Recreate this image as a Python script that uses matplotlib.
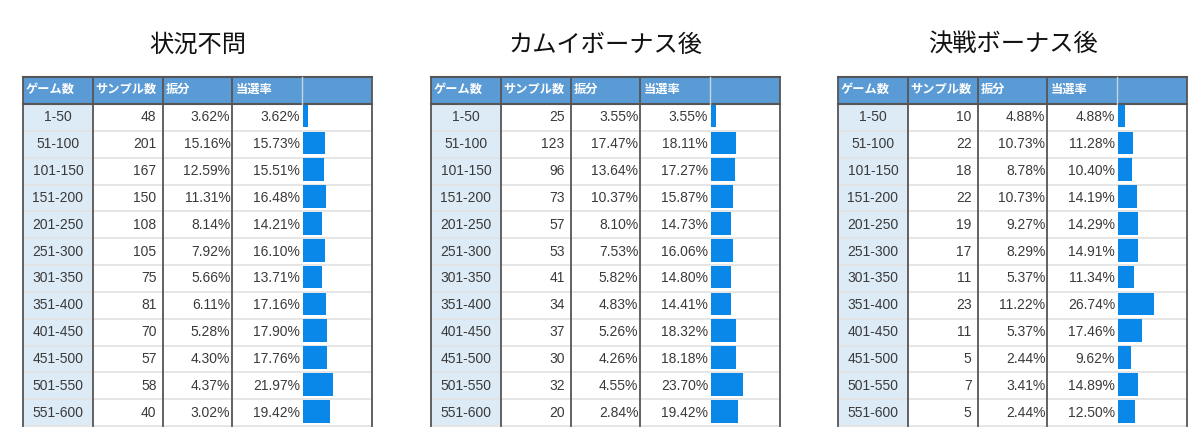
import matplotlib.pyplot as plt
from matplotlib.patches import Rectangle
import numpy as np

titles = ["状況不問", "カムイボーナス後", "決戦ボーナス後"]
headers = ["ゲーム数", "サンプル数", "振分", "当選率"]
ranges = ["1-50", "51-100", "101-150", "151-200", "201-250", "251-300",
          "301-350", "351-400", "401-450", "451-500", "501-550", "551-600"]

samples_all = [48, 201, 167, 150, 108, 105, 75, 81, 70, 57, 58, 40]
share_all = [3.62, 15.16, 12.59, 11.31, 8.14, 7.92, 5.66, 6.11, 5.28, 4.30, 4.37, 3.02]
rate_all = [3.62, 15.73, 15.51, 16.48, 14.21, 16.10, 13.71, 17.16, 17.90, 17.76, 21.97, 19.42]

samples_kamui = [25, 123, 96, 73, 57, 53, 41, 34, 37, 30, 32, 20]
share_kamui = [3.55, 17.47, 13.64, 10.37, 8.10, 7.53, 5.82, 4.83, 5.26, 4.26, 4.55, 2.84]
rate_kamui = [3.55, 18.11, 17.27, 15.87, 14.73, 16.06, 14.80, 14.41, 18.32, 18.18, 23.70, 19.42]

samples_kessen = [10, 22, 18, 22, 19, 17, 11, 23, 11, 5, 7, 5]
share_kessen = [4.88, 10.73, 8.78, 10.73, 9.27, 8.29, 5.37, 11.22, 5.37, 2.44, 3.41, 2.44]
rate_kessen = [4.88, 11.28, 10.40, 14.19, 14.29, 14.91, 11.34, 26.74, 17.46, 9.62, 14.89, 12.50]

tables = [
    (samples_all, share_all, rate_all),
    (samples_kamui, share_kamui, rate_kamui),
    (samples_kessen, share_kessen, rate_kessen),
]

W, H = 1199, 441
JP = ["Noto Sans CJK JP", "DejaVu Sans"]
NUM = ["Liberation Sans", "DejaVu Sans"]

fig = plt.figure(figsize=(W / 100, H / 100), dpi=100)
ax = fig.add_axes([0, 0, 1, 1])
ax.set_xlim(0, W)
ax.set_ylim(H, 0)
ax.axis("off")

lefts = [23, 431, 838]
col_w = 69.8
head_top, head_bot, tbl_bot = 77, 104, 426
row_h = (tbl_bot - head_bot) / len(ranges)
dark = "#555555"
light = "#e2e2e2"
txt = "#3a3a3a"

for t, left in enumerate(lefts):
    samples, share, rate = tables[t]
    cols = [left + col_w * k for k in range(6)]
    right = cols[5]

    ax.text((left + right) / 2, 45, titles[t], ha="center", va="center",
            fontsize=17.5, family=JP, color="#111111")

    # header band
    ax.add_patch(Rectangle((left, head_top), right - left, head_bot - head_top,
                           facecolor="#5b9bd5", edgecolor="none"))
    # first column shading
    ax.add_patch(Rectangle((left, head_bot), col_w, tbl_bot - head_bot,
                           facecolor="#ddebf7", edgecolor="none"))

    # horizontal row lines
    for i in range(1, len(ranges) + 1):
        y = head_bot + i * row_h
        ax.plot([left, right], [y, y], color=light, lw=1.2, zorder=1)
    ax.plot([left, right], [head_top, head_top], color=dark, lw=1.5, zorder=3)
    ax.plot([left, right], [head_bot, head_bot], color=dark, lw=1.5, zorder=3)

    # vertical lines
    for k, x in enumerate(cols):
        if k == 4:
            ax.plot([x, x], [head_top, head_bot], color="#c8d4e0", lw=1.0, zorder=3)
            continue
        ax.plot([x, x], [head_top, tbl_bot], color=dark, lw=1.3, zorder=3)

    for k, h in enumerate(headers):
        ax.text(cols[k] + 3, (head_top + head_bot) / 2 - 1, h, ha="left", va="center",
                fontsize=8.8, fontweight="bold", family=JP, color="white")

    for i, r in enumerate(ranges):
        yc = head_bot + (i + 0.5) * row_h
        ax.text(left + col_w / 2, yc, r, ha="center", va="center",
                fontsize=10, family=NUM, color=txt)
        ax.text(cols[2] - 6, yc, f"{samples[i]}", ha="right", va="center",
                fontsize=10, family=NUM, color=txt)
        ax.text(cols[3] - 2, yc, f"{share[i]:.2f}%", ha="right", va="center",
                fontsize=10, family=NUM, color=txt)
        ax.text(cols[4] - 2, yc, f"{rate[i]:.2f}%", ha="right", va="center",
                fontsize=10, family=NUM, color=txt)

    # data bars in the last column
    bx = fig.add_axes([(cols[4] + 1) / W, 1 - tbl_bot / H,
                       (col_w - 2) / W, (tbl_bot - head_bot) / H])
    bx.set_xlim(0, 50)
    bx.set_ylim(len(ranges) - 0.5, -0.5)
    bx.barh(np.arange(len(ranges)) - 0.05, rate, height=0.84,
            color="#0a88ea", edgecolor="none")
    bx.axis("off")
    bx.patch.set_alpha(0)

fig.savefig("out.png", dpi=100)
